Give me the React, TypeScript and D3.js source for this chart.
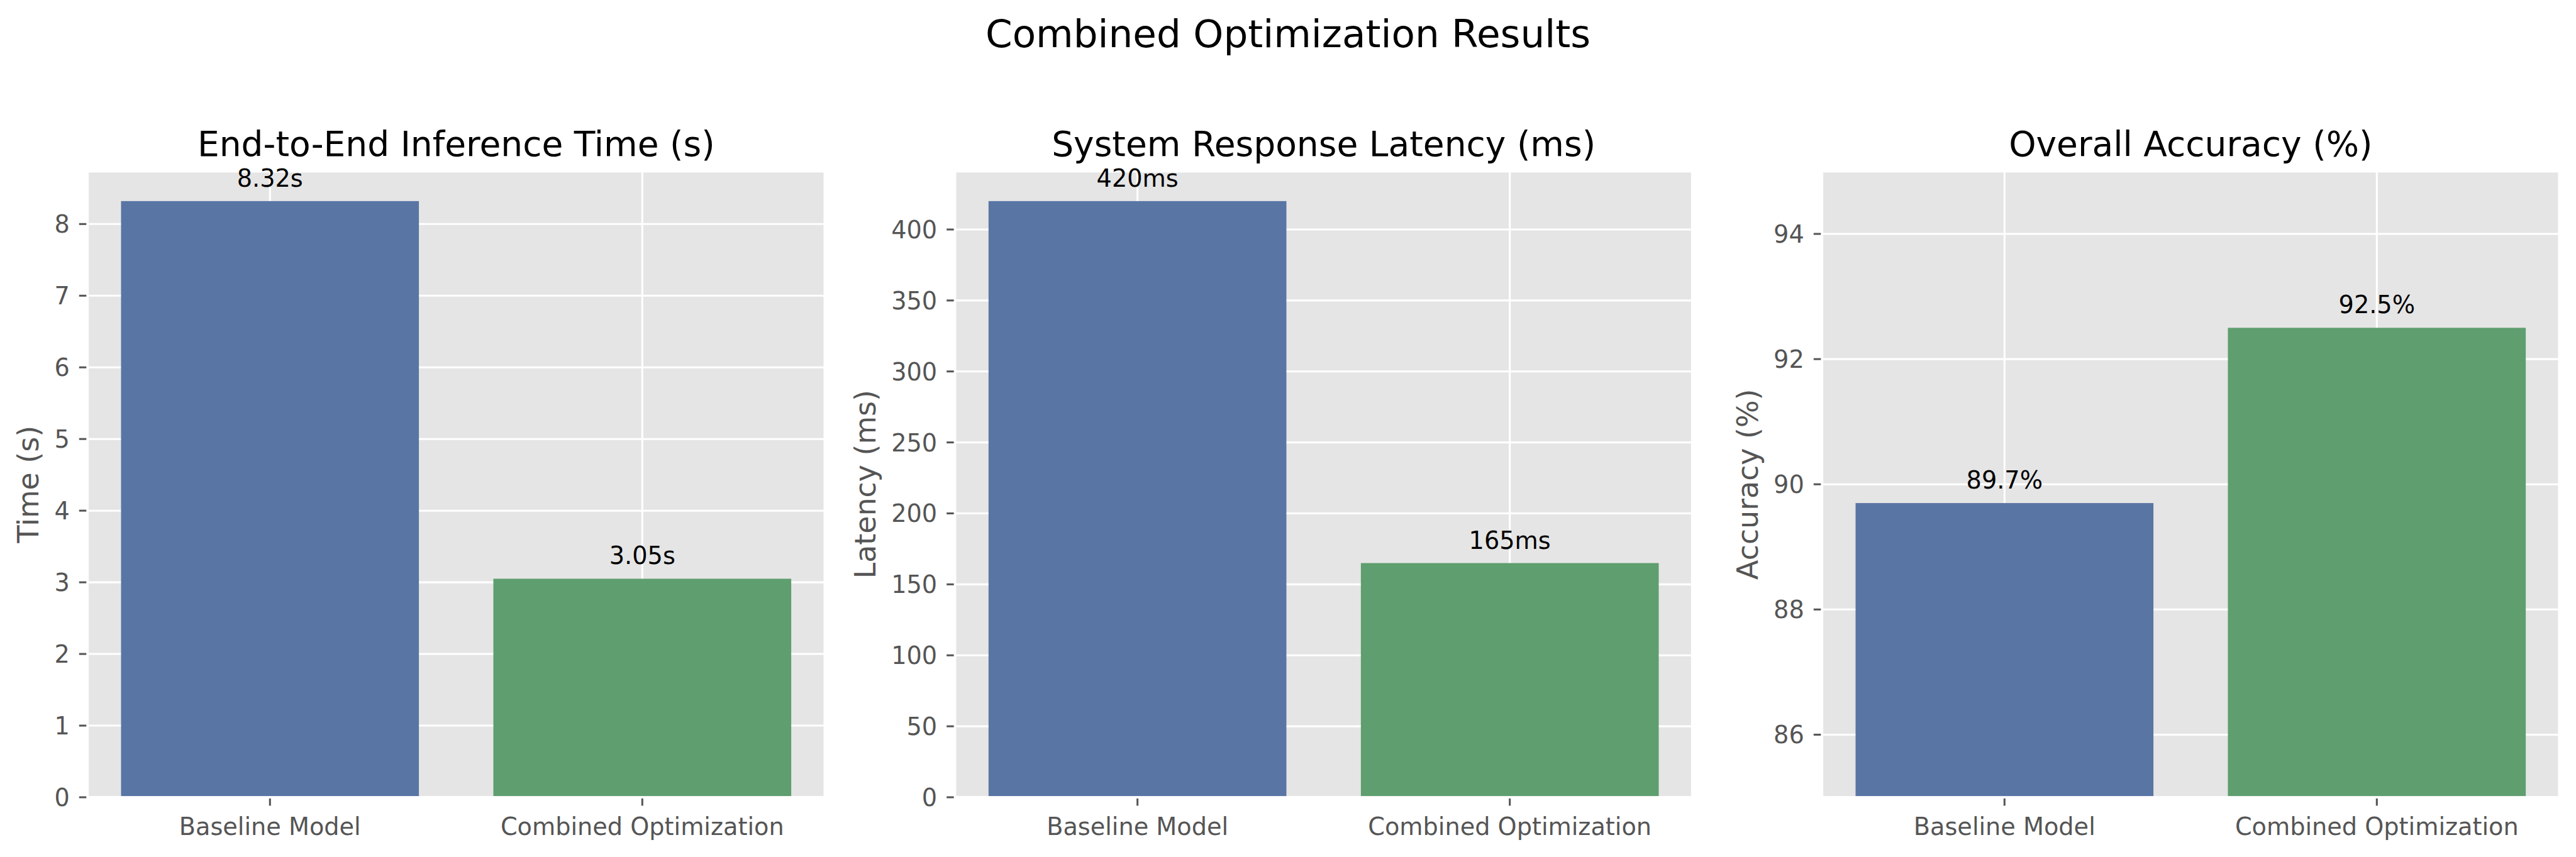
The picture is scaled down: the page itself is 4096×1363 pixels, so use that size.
import React from "react";
import * as d3 from "d3";

// ---------- data ----------
const categories = ["Baseline Model", "Combined Optimization"];
const timeValues = [8.32, 3.05];
const latencyValues = [420, 165];
const accuracyValues = [89.7, 92.5];
const timeLabels = ["8.32s", "3.05s"];
const latencyLabels = ["420ms", "165ms"];
const accuracyLabels = ["89.7%", "92.5%"];
const timeTicks = [0, 1, 2, 3, 4, 5, 6, 7, 8];
const latencyTicks = [0, 50, 100, 150, 200, 250, 300, 350, 400];
const accuracyTicks = [86, 88, 90, 92, 94];
const accuracyDomain = [85, 95];
const barColors = ["#5975A4", "#5F9E6E"];
const suptitle = "Combined Optimization Results";
const panelTitles = [
  "End-to-End Inference Time (s)",
  "System Response Latency (ms)",
  "Overall Accuracy (%)",
];
const yLabels = ["Time (s)", "Latency (ms)", "Accuracy (%)"];

// ---------- layout (reference pixel space) ----------
const W = 4464;
const H = 1485;
const FONT = "'DejaVu Sans', 'Liberation Sans', sans-serif";
const axTop = 296.7;
const axBottom = 1381.7;
const axWidth = 1277.5;
const axLefts = [151.7, 1655, 3157.5];
const tickFont = 41.67;
const labelFont = 50;
const titleFont = 60;
const supFont = 66.7;

type PanelSpec = {
  values: number[];
  labels: string[];
  ticks: number[];
  domain: [number, number];
  title: string;
  ylabel: string;
};

const panels: PanelSpec[] = [
  {
    values: timeValues,
    labels: timeLabels,
    ticks: timeTicks,
    domain: [0, (d3.max(timeValues) as number) * 1.05],
    title: panelTitles[0],
    ylabel: yLabels[0],
  },
  {
    values: latencyValues,
    labels: latencyLabels,
    ticks: latencyTicks,
    domain: [0, (d3.max(latencyValues) as number) * 1.05],
    title: panelTitles[1],
    ylabel: yLabels[1],
  },
  {
    values: accuracyValues,
    labels: accuracyLabels,
    ticks: accuracyTicks,
    domain: [accuracyDomain[0], accuracyDomain[1]],
    title: panelTitles[2],
    ylabel: yLabels[2],
  },
];

function Panel({ spec, left }: { spec: PanelSpec; left: number }) {
  const right = left + axWidth;
  const x = d3.scaleLinear().domain([-0.49, categories.length - 1 + 0.49]).range([left, right]);
  const y = d3.scaleLinear().domain(spec.domain).range([axBottom, axTop]);
  const maxChars = d3.max(spec.ticks, (t) => String(t).length) as number;
  const ylabelX = left - (58.7 + 26.5 * maxChars);
  const clipId = `clip-${Math.round(left)}`;
  return (
    <g>
      <defs>
        <clipPath id={clipId}>
          <rect x={left} y={axTop} width={axWidth} height={axBottom - axTop} />
        </clipPath>
      </defs>
      {/* background */}
      <rect x={left} y={axTop} width={axWidth} height={axBottom - axTop} fill="#E5E5E5" />
      {/* grid */}
      <g clipPath={`url(#${clipId})`}>
        {spec.ticks.map((t) => (
          <line key={"hy" + t} x1={left} x2={right} y1={y(t)} y2={y(t)} stroke="#ffffff" strokeWidth={3.33} />
        ))}
        {categories.map((c, i) => (
          <line key={"gx" + c} x1={x(i)} x2={x(i)} y1={axTop} y2={axBottom} stroke="#ffffff" strokeWidth={3.33} />
        ))}
      </g>
      {/* bars */}
      <g clipPath={`url(#${clipId})`}>
        {spec.values.map((v, i) => (
          <rect
            key={"b" + i}
            x={x(i - 0.4)}
            width={x(i + 0.4) - x(i - 0.4)}
            y={y(v)}
            height={axBottom - y(v)}
            fill={barColors[i]}
          />
        ))}
      </g>
      {/* ticks */}
      {spec.ticks.map((t) => (
        <g key={"yt" + t}>
          <line x1={left - 14.6} x2={left} y1={y(t)} y2={y(t)} stroke="#555555" strokeWidth={3.33} />
          <text
            x={left - 31}
            y={y(t) + 0.3645 * tickFont}
            textAnchor="end"
            fontSize={tickFont}
            fill="#555555"
            fontFamily={FONT}
          >
            {String(t)}
          </text>
        </g>
      ))}
      {categories.map((c, i) => (
        <g key={"xt" + c}>
          <line x1={x(i)} x2={x(i)} y1={axBottom} y2={axBottom + 14.6} stroke="#555555" strokeWidth={3.33} />
          <text x={x(i)} y={axBottom + 65} textAnchor="middle" fontSize={tickFont} fill="#555555" fontFamily={FONT}>
            {c}
          </text>
        </g>
      ))}
      {/* white spine */}
      <rect
        x={left}
        y={axTop}
        width={axWidth}
        height={axBottom - axTop}
        fill="none"
        stroke="#ffffff"
        strokeWidth={4.17}
      />
      {/* bar value labels */}
      {spec.values.map((v, i) => (
        <text
          key={"bl" + i}
          x={x(i)}
          y={y(v) - 25}
          textAnchor="middle"
          fontSize={tickFont}
          fill="#000000"
          fontFamily={FONT}
        >
          {spec.labels[i]}
        </text>
      ))}
      {/* title */}
      <text
        x={(left + right) / 2}
        y={270}
        textAnchor="middle"
        fontSize={titleFont}
        fill="#000000"
        fontFamily={FONT}
      >
        {spec.title}
      </text>
      {/* y label */}
      <text
        transform={`translate(${ylabelX},${(axTop + axBottom) / 2}) rotate(-90)`}
        textAnchor="middle"
        fontSize={labelFont}
        fill="#555555"
        fontFamily={FONT}
      >
        {spec.ylabel}
      </text>
    </g>
  );
}

export default function App() {
  return (
    <svg
      width={4096}
      height={1363}
      viewBox={`0 0 ${W} ${H}`}
      style={{ position: "absolute", left: 0, top: 0, display: "block", background: "#ffffff" }}
    >
      <rect x={0} y={0} width={W} height={H} fill="#ffffff" />
      <text x={W / 2} y={81.7} textAnchor="middle" fontSize={supFont} fill="#000000" fontFamily={FONT}>
        {suptitle}
      </text>
      {panels.map((p, i) => (
        <Panel key={i} spec={p} left={axLefts[i]} />
      ))}
    </svg>
  );
}
